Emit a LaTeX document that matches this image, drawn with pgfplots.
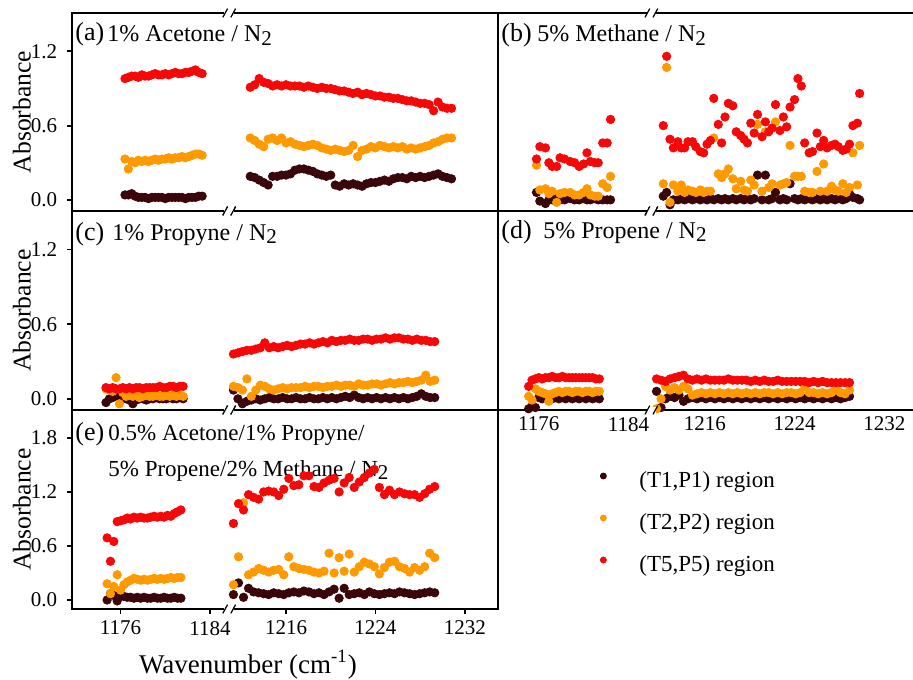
\documentclass[border=0pt]{standalone}
\usepackage{fontspec}
\setmainfont{Liberation Serif}
\usepackage{pgfplots}
\usepackage{pgfplotstable}
\pgfplotsset{compat=1.18}

\definecolor{cT1}{RGB}{58,6,10}
\definecolor{cT2}{RGB}{255,153,0}
\definecolor{cT5}{RGB}{246,8,8}

% broken wavenumber axis: the 1211-1235 window is drawn right after the 1172-1186 window
\newcommand\xbrk{ifthenelse(\thisrow{x}<1200,\thisrow{x},\thisrow{x}-25.2)}

% (a) 1% acetone / N2
\pgfplotstableread{
x t1 t2 t5
1176.4 .04 .33 .98
1176.7 .04 .25 .99
1177.0 .05 .31 1.00
1177.3 .03 .30 1.00
1177.6 .02 .32 .99
1177.9 .02 .31 1.01
1178.2 .02 .32 1.00
1178.5 .01 .31 1.00
1178.8 .02 .32 1.01
1179.1 .02 .33 1.02
1179.4 .02 .32 1.01
1179.7 .02 .33 1.01
1180.0 .01 .33 1.02
1180.3 .02 .34 1.01
1180.6 .02 .33 1.02
1180.9 .02 .34 1.03
1181.2 .02 .34 1.02
1181.5 .02 .35 1.02
1181.8 .01 .34 1.03
1182.1 .02 .35 1.03
1182.4 .02 .36 1.04
1182.7 .02 .37 1.05
1183.0 .03 .37 1.03
1183.3 .03 .36 1.02
1212.8 .19 .50 .91
1213.2 .18 .48 .93
1213.6 .16 .45 .98
1214.0 .14 .43 .95
1214.4 .12 .49 .94
1214.8 .19 .50 .92
1215.2 .19 .48 .93
1215.6 .20 .50 .92
1216.0 .20 .46 .93
1216.4 .21 .47 .92
1216.8 .24 .45 .92
1217.2 .25 .44 .92
1217.6 .25 .43 .91
1218.0 .24 .44 .92
1218.4 .23 .45 .91
1218.8 .21 .44 .90
1219.2 .20 .42 .91
1219.6 .19 .41 .90
1220.0 .20 .40 .90
1220.4 .12 .41 .89
1220.8 .11 .40 .88
1221.2 .13 .39 .88
1221.6 .12 .40 .87
1222.0 .13 .44 .86
1222.4 .12 .35 .87
1222.8 .11 .40 .85
1223.2 .13 .41 .86
1223.6 .14 .43 .85
1224.0 .14 .42 .84
1224.4 .15 .44 .84
1224.8 .16 .43 .83
1225.2 .15 .42 .83
1225.6 .17 .43 .82
1226.0 .18 .42 .82
1226.4 .18 .43 .81
1226.8 .17 .41 .80
1227.2 .19 .42 .80
1227.6 .18 .41 .79
1228.0 .19 .42 .78
1228.4 .18 .43 .78
1228.8 .19 .44 .77
1229.2 .20 .46 .72
1229.6 .21 .47 .79
1230.0 .19 .49 .75
1230.4 .18 .50 .74
1230.8 .17 .50 .74
}\tabA

% (b) 5% methane / N2
\pgfplotstableread{
x t1 t2 t5
1175.8 .06 .28 .33
1176.1 -.01 .08 .43
1176.6 -.03 .09 .42
1176.9 .00 .05 .30
1177.2 .00 .07 .27
1177.6 .01 -.02 .27
1177.9 .00 .05 .34
1178.3 .00 .06 .33
1178.8 .01 .06 .31
1179.2 .00 .04 .30
1179.6 .00 .04 .27
1180.0 .01 .06 .29
1180.3 .00 .09 .38
1180.6 .00 .04 .31
1181.0 .01 .03 .30
1181.3 .00 .03 .30
1181.7 .00 .13 .46
1182.1 .00 .10 .46
1182.4 .00 .19 .65
1212.3 .03 .13 .60
1212.6 .06 1.07 1.16
1212.9 -.04 -.02 .49
1213.2 .00 .12 .42
1213.6 .00 .07 .47
1213.9 .01 .12 .42
1214.2 .00 .06 .42
1214.5 .01 .08 .47
1214.9 .00 .07 .47
1215.2 .01 .06 .43
1215.6 .00 .08 .39
1215.9 .01 .06 .38
1216.2 .00 .07 .45
1216.5 .01 .07 .48
1216.8 .00 .50 .82
1217.2 .01 .21 .61
1217.5 .00 .18 .46
1217.8 .01 .21 .67
1218.1 .00 .25 .78
1218.5 .01 .17 .76
1218.8 .00 .09 .55
1219.2 .01 .15 .52
1219.5 .00 .08 .49
1219.8 .01 .07 .46
1220.1 .00 .16 .62
1220.4 .01 .12 .54
1220.7 .20 .61 .69
1221.1 .00 .07 .51
1221.4 .20 .55 .63
1221.7 .00 .10 .55
1222.0 .01 .13 .58
1222.3 .06 .63 .77
1222.7 .00 .12 .56
1223.0 .01 .13 .67
1223.3 .00 .14 .59
1223.6 .13 .44 .75
1224.0 .01 .19 .81
1224.3 .00 .19 .98
1224.6 .01 .19 .92
1224.9 .00 .07 .46
1225.3 .01 .06 .38
1225.6 .00 .06 .39
1226.0 .01 .23 .54
1226.3 .00 .07 .43
1226.6 .01 .29 .48
1226.9 .00 .07 .42
1227.3 .01 .11 .44
1227.6 .00 .08 .45
1227.9 .01 .07 .43
1228.3 .00 .13 .40
1228.6 .01 .06 .41
1228.9 .05 .10 .45
1229.2 .02 .38 .60
1229.6 .01 .12 .62
1229.8 .00 .44 .86
}\tabB

% (c) 1% propyne / N2
\pgfplotstableread{
x t1 t2 t5
1174.7 -.03 .08 .09
1175.0 .00 .07 .08
1175.3 .01 .06 .09
1175.6 .02 .17 .08
1175.9 .03 -.04 .08
1176.2 .01 .05 .09
1176.5 .00 .02 .08
1176.8 -.01 .03 .09
1177.1 -.04 .02 .08
1177.4 -.01 .03 .09
1177.7 .00 .01 .09
1178.0 .00 .02 .08
1178.3 -.01 .03 .09
1178.6 .00 .02 .09
1178.9 .00 .02 .09
1179.2 .01 .03 .09
1179.5 .00 .02 .10
1179.8 .00 .02 .09
1180.1 .00 .03 .09
1180.4 .01 .02 .10
1180.7 .00 .03 .10
1181.0 .00 .02 .09
1181.3 .01 .03 .10
1181.6 .00 .02 .10
1211.3 .07 .10 .36
1211.7 .00 .09 .37
1212.1 -.04 .07 .38
1212.5 -.02 .16 .39
1212.9 -.01 .02 .39
1213.3 .00 .07 .40
1213.7 -.01 .11 .41
1214.1 .00 .10 .45
1214.5 .01 .08 .41
1214.9 .00 .07 .42
1215.3 .00 .08 .41
1215.7 .01 .09 .42
1216.1 .00 .08 .43
1216.5 .00 .09 .42
1216.9 .01 .09 .43
1217.3 .00 .09 .44
1217.7 .00 .10 .44
1218.1 .01 .09 .45
1218.5 .00 .10 .44
1218.9 .00 .10 .45
1219.3 .01 .09 .46
1219.7 .00 .10 .45
1220.1 .01 .10 .47
1220.5 .00 .11 .46
1220.9 .01 .10 .47
1221.3 .02 .11 .47
1221.7 .01 .11 .48
1222.1 .03 .10 .47
1222.5 .01 .12 .47
1222.9 .00 .11 .48
1223.3 .01 .11 .48
1223.7 .00 .12 .47
1224.1 .01 .12 .48
1224.5 .00 .11 .48
1224.9 .01 .12 .49
1225.3 .00 .13 .48
1225.7 .01 .12 .49
1226.1 .00 .13 .49
1226.5 .01 .13 .48
1226.9 .00 .14 .48
1227.3 .01 .13 .47
1227.7 .02 .14 .48
1228.1 .04 .15 .47
1228.5 .02 .19 .47
1228.9 .01 .14 .46
1229.3 .01 .15 .46
}\tabC

% (d) 5% propene / N2
\pgfplotstableread{
x t1 t2 t5
1175.1 -.08 .02 .10
1175.4 -.06 -.01 .15
1175.7 -.07 .08 .16
1176.0 .01 .06 .17
1176.3 .00 .05 .16
1176.6 .01 .04 .17
1176.9 .00 -.02 .17
1177.2 .00 .04 .18
1177.5 .01 .05 .17
1177.8 .00 .06 .17
1178.1 .01 .05 .18
1178.4 .00 .06 .17
1178.7 .01 .06 .17
1179.0 .00 .05 .17
1179.3 .01 .06 .17
1179.6 .00 .06 .17
1179.9 .01 .05 .17
1180.2 .00 .06 .17
1180.5 .01 .06 .17
1180.8 .00 .05 .17
1181.1 .01 .06 .16
1181.4 .00 .06 .16
1211.7 .06 -.08 .16
1212.1 -.07 .00 .15
1212.5 .00 .10 .14
1212.9 .02 .07 .16
1213.3 .01 .09 .17
1213.7 .03 .07 .18
1214.1 -.02 .10 .19
1214.5 .00 .08 .16
1214.9 .01 .03 .15
1215.3 .00 .04 .16
1215.7 .01 .05 .15
1216.1 .00 .04 .16
1216.5 .01 .05 .15
1216.9 .00 .04 .15
1217.3 .01 .05 .15
1217.7 .00 .04 .15
1218.1 .01 .05 .16
1218.5 .00 .04 .15
1218.9 .01 .05 .15
1219.3 .00 .04 .15
1219.7 .01 .05 .15
1220.1 .00 .04 .14
1220.5 .01 .05 .15
1220.9 .00 .04 .14
1221.3 .01 .05 .15
1221.7 .00 .05 .14
1222.1 .01 .04 .14
1222.5 .00 .05 .15
1222.9 .01 .04 .14
1223.3 .00 .05 .14
1223.7 .01 .05 .14
1224.1 .00 .04 .14
1224.5 .01 .05 .14
1224.9 .00 .10 .14
1225.3 .01 .05 .13
1225.7 .00 .05 .14
1226.1 .01 .04 .13
1226.5 .00 .05 .14
1226.9 .01 .04 .13
1227.3 .00 .05 .13
1227.7 .01 .07 .13
1228.1 .00 .05 .13
1228.5 .01 .04 .13
1228.9 .02 .07 .13
}\tabD

% (e) mixture
\pgfplotstableread{
x t1 t2 t5
1174.8 .00 .18 .69
1175.1 .07 .07 .43
1175.4 .05 .15 .65
1175.7 -.01 .28 .87
1176.0 .04 .11 .88
1176.3 .04 .17 .89
1176.6 .03 .20 .91
1176.9 .03 .22 .90
1177.2 .02 .24 .92
1177.5 .03 .23 .91
1177.8 .02 .22 .92
1178.1 .03 .23 .91
1178.4 .02 .22 .91
1178.7 .02 .23 .92
1179.0 .03 .24 .93
1179.3 .02 .23 .92
1179.6 .02 .24 .93
1179.9 .03 .23 .92
1180.2 .02 .24 .94
1180.5 .02 .25 .93
1180.8 .03 .24 .96
1181.1 .02 .25 .98
1181.4 .02 .25 1.00
1211.30 .06 .17 .85
1211.75 .19 .48 1.07
1212.20 .03 1.08 1.00
1212.65 .13 .28 1.17
1213.10 .09 .31 1.14
1213.55 .08 .35 1.12
1214.00 .07 .33 1.20
1214.45 .06 .31 1.21
1214.90 .08 .33 1.20
1215.35 .07 .34 1.16
1215.80 .06 .28 1.23
1216.25 .08 .48 1.35
1216.70 .09 .37 1.27
1217.15 .08 .35 1.28
1217.60 .10 .34 1.38
1218.05 .09 .33 1.38
1218.50 .07 .31 1.26
1218.95 .08 .30 1.25
1219.40 .06 .32 1.30
1219.85 .09 .52 1.33
1220.30 .12 .30 1.35
1220.75 .02 .47 1.20
1221.20 .13 .32 1.30
1221.65 .06 .51 1.36
1222.10 .07 .31 1.25
1222.55 .08 .37 1.31
1223.00 .06 .42 1.36
1223.45 .09 .40 1.41
1223.90 .07 .37 1.45
1224.35 .06 .29 1.25
1224.80 .07 .36 1.17
1225.25 .08 .42 1.22
1225.70 .07 .43 1.17
1226.15 .09 .37 1.20
1226.60 .08 .35 1.18
1227.05 .07 .31 1.17
1227.50 .06 .36 1.17
1227.95 .07 .33 1.14
1228.40 .08 .37 1.18
1228.85 .09 .52 1.23
1229.30 .08 .47 1.26
}\tabE

\pgfplotsset{
  panel/.style={
    scale only axis, width=213pt, height=99pt,
    axis line style={line width=1.2pt},
    tick style={line width=0.9pt, black},
    major tick length=2.5pt,
    tick align=outside, tick pos=left,
    clip=false,
    ymin=-0.09, ymax=1.51,
    ytick={0,0.6,1.2},
    xtick={1176,1184,1190.8,1198.8,1206.8},
    xticklabels={1176,1184,1216,1224,1232},
    /pgf/number format/assume math mode=true,
    yticklabel style={inner sep=1.2pt, xshift=-3.5pt, /pgf/number format/.cd, fixed, fixed zerofill, precision=1},
    ticklabel style={font=\fontsize{10.5}{12}\selectfont},
    ylabel style={at={(axis description cs:-0.1174,0.5)}, anchor=center,
                  font=\fontsize{12.8}{14}\selectfont},
    xlabel style={font=\fontsize{13.5}{15}\selectfont},
  },
  leftcol/.style={panel, xmin=1171.66, xmax=1209.76},
  rightcol/.style={panel, xmin=1172.37, xmax=1210.34, ytick=\empty},
  sT1/.style={only marks, mark=*, mark size=2.1pt, color=cT1, mark options={draw=none, fill=cT1}},
  sT2/.style={only marks, mark=*, mark size=2.1pt, color=cT2, mark options={draw=none, fill=cT2}},
  sT5/.style={only marks, mark=*, mark size=2.1pt, color=cT5, mark options={draw=none, fill=cT5}},
}
\tikzset{
  plab/.style={anchor=base west, inner sep=0pt, font=\fontsize{13}{15}\selectfont},
  ptxt/.style={anchor=base west, inner sep=0pt, font=\fontsize{12}{14}\selectfont},
}

\newcommand\Ntwo{N\raisebox{-0.35ex}{\fontsize{10.5}{12}\selectfont 2}}

% "//" break symbol on a frame line
\newcommand\brk[1]{%
  \fill[white] ([shift={(-2.4pt,-1.6pt)}]#1) rectangle ([shift={(2.4pt,1.6pt)}]#1);
  \draw[line width=0.6pt] ([shift={(-3.2pt,-2.2pt)}]#1) -- ([shift={(-0.8pt,2.2pt)}]#1);
  \draw[line width=0.6pt] ([shift={(0.8pt,-2.2pt)}]#1) -- ([shift={(3.2pt,2.2pt)}]#1);
}

\begin{document}
\begin{tikzpicture}

% (a)
\begin{axis}[leftcol, at={(36pt,-6.5pt)}, anchor=north west, height=99pt,
  xtick=\empty, ylabel={Absorbance}]
  \addplot[sT1] table[x expr=\xbrk, y=t1] \tabA;
  \addplot[sT2] table[x expr=\xbrk, y=t2] \tabA;
  \addplot[sT5] table[x expr=\xbrk, y=t5] \tabA;
  \node[plab] at ([xshift=1.5pt,yshift=-14pt]rel axis cs:0,1) {(a)};
  \node[ptxt] at ([xshift=17.5pt,yshift=-14.5pt]rel axis cs:0,1) {1\% Acetone / \Ntwo};
  \coordinate (ab0) at (rel axis cs:0.369,0);
  \coordinate (ab1) at (rel axis cs:0.369,1);
\end{axis}

% (b)
\begin{axis}[rightcol, at={(249pt,-6.5pt)}, anchor=north west, height=99pt,
  xtick=\empty]
  \addplot[sT1] table[x expr=\xbrk, y=t1] \tabB;
  \addplot[sT2] table[x expr=\xbrk, y=t2] \tabB;
  \addplot[sT5] table[x expr=\xbrk, y=t5] \tabB;
  \node[plab] at ([xshift=1.5pt,yshift=-14.3pt]rel axis cs:0,1) {(b)};
  \node[ptxt] at ([xshift=19.5pt,yshift=-14.3pt]rel axis cs:0,1) {5\% Methane / \Ntwo};
  \coordinate (bb0) at (rel axis cs:0.36,0);
  \coordinate (bb1) at (rel axis cs:0.36,1);
\end{axis}

% (c)
\begin{axis}[leftcol, at={(36pt,-105.5pt)}, anchor=north west, height=99.5pt,
  xtick=\empty, ylabel={Absorbance}]
  \addplot[sT1] table[x expr=\xbrk, y=t1] \tabC;
  \addplot[sT2] table[x expr=\xbrk, y=t2] \tabC;
  \addplot[sT5] table[x expr=\xbrk, y=t5] \tabC;
  \node[plab] at ([xshift=1.5pt,yshift=-14.5pt]rel axis cs:0,1) {(c)};
  \node[ptxt] at ([xshift=20pt,yshift=-14.5pt]rel axis cs:0,1) {1\% Propyne / \Ntwo};
  \coordinate (cb0) at (rel axis cs:0.369,0);
  \coordinate (cb1) at (rel axis cs:0.369,1);
\end{axis}

% (d)
\begin{axis}[rightcol, at={(249pt,-105.5pt)}, anchor=north west, height=99.5pt,
  major tick length=0pt]
  \addplot[sT1] table[x expr=\xbrk, y=t1] \tabD;
  \addplot[sT2] table[x expr=\xbrk, y=t2] \tabD;
  \addplot[sT5] table[x expr=\xbrk, y=t5] \tabD;
  \node[plab] at ([xshift=1.5pt,yshift=-13.5pt]rel axis cs:0,1) {(d)};
  \node[ptxt] at ([xshift=22.5pt,yshift=-13.5pt]rel axis cs:0,1) {5\% Propene / \Ntwo};
  \coordinate (db0) at (rel axis cs:0.36,0);
  \coordinate (db1) at (rel axis cs:0.36,1);
\end{axis}

% (e)
\begin{axis}[leftcol, at={(36pt,-205pt)}, anchor=north west, height=99.5pt,
  ymin=-0.1, ymax=2.11, ytick={0,0.6,1.2,1.8},
  ylabel={Absorbance},
  xlabel={Wavenumber (cm\textsuperscript{-1})},
  xlabel style={at={(axis description cs:0.413,-0.28)}, anchor=center},
  legend style={at={(1.237,0.693)}, anchor=north west, draw=none, fill=none,
    inner sep=0pt, row sep=10.5pt, font=\fontsize{11.5}{13}\selectfont,
    nodes={inner sep=0pt, text height=8pt, text depth=2.5pt}},
  legend cell align=left,
  legend image code/.code={\path[draw=none, fill=none] (-2pt,-2pt) rectangle (18pt,2pt);
    \draw[#1, mark size=1.5pt] plot coordinates {(0pt,3pt)};}]
  \addplot[sT1] table[x expr=\xbrk, y=t1] \tabE;
  \addplot[sT2] table[x expr=\xbrk, y=t2] \tabE;
  \addplot[sT5] table[x expr=\xbrk, y=t5] \tabE;
  \legend{(T1,P1) region, (T2,P2) region, (T5,P5) region}
  \node[plab] at ([xshift=1.5pt,yshift=-15pt]rel axis cs:0,1) {(e)};
  \node[ptxt, font=\fontsize{11.5}{13}\selectfont] at ([xshift=18pt,yshift=-15pt]rel axis cs:0,1) {0.5\% Acetone/1\% Propyne/};
  \node[ptxt, font=\fontsize{11.5}{13}\selectfont] at ([xshift=18pt,yshift=-33pt]rel axis cs:0,1) {5\% Propene/2\% Methane / \Ntwo};
  \coordinate (eb0) at (rel axis cs:0.369,0);
  \coordinate (eb1) at (rel axis cs:0.369,1);
\end{axis}

\brk{ab0}\brk{ab1}\brk{bb0}\brk{bb1}\brk{cb0}\brk{cb1}\brk{db0}\brk{db1}\brk{eb0}\brk{eb1}

\pgfresetboundingbox
\path[use as bounding box] (0,0) rectangle (456.5pt,-339.5pt);
\end{tikzpicture}
\end{document}
